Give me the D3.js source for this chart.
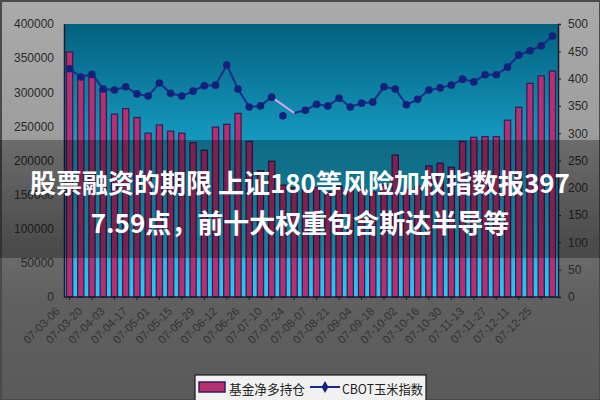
<!DOCTYPE html>
<html><head><meta charset="utf-8">
<script src="https://cdn.jsdelivr.net/npm/d3@7/dist/d3.min.js"></script>
<style>html,body{margin:0;padding:0;background:#777;}svg{display:block;}</style>
</head><body>
<svg id="c" width="600" height="400"></svg>
<script>
// ---- data ----
const weeks = ["07-03-06","07-03-13","07-03-20","07-03-27","07-04-03","07-04-10","07-04-17","07-04-24",
  "07-05-01","07-05-08","07-05-15","07-05-22","07-05-29","07-06-05","07-06-12","07-06-19",
  "07-06-26","07-07-03","07-07-10","07-07-17","07-07-24","07-07-31","07-08-07","07-08-14",
  "07-08-21","07-08-28","07-09-04","07-09-11","07-09-18","07-09-25","07-10-02","07-10-09",
  "07-10-16","07-10-23","07-10-30","07-11-06","07-11-13","07-11-20","07-11-27","07-12-04",
  "07-12-11","07-12-18","07-12-25","08-01-01"];
const fundNetLong = [359000,323000,322000,305000,268000,276000,263000,240000,252000,243000,240000,226000,
  215000,249000,253000,269000,228000,185000,199000,164000,160000,157000,160000,154000,162000,157000,
  160000,154000,164000,208000,157000,162000,192000,196000,190000,228000,234000,235000,235000,259000,
  278000,313000,324000,331000];
const cornIndex = [418,403,408,381,379,385,372,368,392,373,368,377,387,388,425,381,348,350,366,332,337,
  342,353,350,364,348,355,357,385,381,352,362,379,383,388,399,394,407,407,421,443,451,460,478];
const leftTicks = [0,50000,100000,150000,200000,250000,300000,350000,400000];
const rightTicks = [0,50,100,150,200,250,300,350,400,450,500];
const seriesNames = ["基金净多持仓","CBOT玉米指数"];
const titleLines = ["股票融资的期限 上证180等风险加权指数报397","7.59点，前十大权重包含斯达半导等"];

// ---- layout ----
const svg = d3.select("#c");
const W = 600, H = 400;
const X0 = 64, X1 = 558, Y0 = 24, Y1 = 297;
const defs = svg.append("defs");

const bgGrad = defs.append("linearGradient").attr("id","bg").attr("x1",0).attr("y1",0).attr("x2",0).attr("y2",1);
[[0,"#aaaaaa"],[0.34,"#9d9d9d"],[0.6,"#6e6e6e"],[0.75,"#606060"],[1,"#5a5a5a"]].forEach(s=>bgGrad.append("stop").attr("offset",s[0]).attr("stop-color",s[1]));
const plotGrad = defs.append("linearGradient").attr("id","pg").attr("x1",0).attr("y1",0).attr("x2",0).attr("y2",1);
[[0,"#03607f"],[0.4,"#1496bb"],[1,"#25c9f2"]].forEach(s=>plotGrad.append("stop").attr("offset",s[0]).attr("stop-color",s[1]));

svg.append("rect").attr("width",W).attr("height",H).attr("fill","url(#bg)");
svg.append("rect").attr("x",1).attr("y",1).attr("width",W-1).attr("height",H-1)
  .attr("fill","none").attr("stroke","#4a4a4a").attr("stroke-width",2);

const x = d3.scaleBand().domain(d3.range(weeks.length)).range([X0,X1]).paddingInner(0.45).paddingOuter(0.22);
const yL = d3.scaleLinear().domain([0,400000]).range([Y1,Y0]);
const yR = d3.scaleLinear().domain([0,500]).range([Y1,Y0]);
const cx = i => x(i) + x.bandwidth()/2;

svg.append("rect").attr("x",X0).attr("y",Y0).attr("width",X1-X0).attr("height",Y1-Y0).attr("fill","url(#pg)");

// bars
svg.append("g").selectAll("rect").data(fundNetLong).join("rect")
  .attr("x",(d,i)=>x(i)).attr("width",x.bandwidth())
  .attr("y",d=>yL(d)).attr("height",d=>Y1-yL(d))
  .attr("fill","#b82f6f").attr("stroke","#33205a").attr("stroke-width",1.3);

// line
const pts = cornIndex.map((v,i)=>({i,v}));
const line = d3.line().x(d=>cx(d.i)).y(d=>yR(d.v));
const mainSegs = [pts.slice(0,19), pts.slice(20)];
mainSegs.forEach(seg=>svg.append("path").attr("d",line(seg)).attr("fill","none")
  .attr("stroke","#1b2a8c").attr("stroke-width",2));
svg.append("path").attr("d",line([pts[18],pts[20]])).attr("fill","none")
  .attr("stroke","#d7a6e6").attr("stroke-width",2);
svg.append("g").selectAll("circle").data(pts.filter(d=>d.i!==20)).join("circle")
  .attr("cx",d=>cx(d.i)).attr("cy",d=>yR(d.v)).attr("r",3.8).attr("fill","#15207a");

// axes
const axisStyle = g => {
  g.selectAll("path.domain").attr("stroke","#1a1a30").attr("stroke-width",1.5);
  g.selectAll(".tick line").attr("stroke","#1a1a30");
  g.selectAll("text").attr("font-family","'Liberation Sans', Arial, sans-serif").attr("fill","#2a2a2a");
};
svg.append("g").attr("transform",`translate(${X0},0)`)
  .call(d3.axisLeft(yL).tickValues(leftTicks).tickSize(0).tickPadding(10).tickFormat(d3.format("d")))
  .call(axisStyle).call(g=>g.selectAll("text").attr("font-size",12));
svg.append("g").attr("transform",`translate(${X1},0)`)
  .call(d3.axisRight(yR).tickValues(rightTicks).tickSize(3).tickPadding(7).tickFormat(d3.format("d")))
  .call(axisStyle).call(g=>g.selectAll("text").attr("font-size",12));
const xa = svg.append("g").attr("transform",`translate(0,${Y1})`)
  .call(d3.axisBottom(x).tickValues(d3.range(0,weeks.length,2)).tickSize(3).tickFormat(i=>weeks[i]))
  .call(axisStyle);
xa.select("path.domain").attr("d",`M${X0},0H${X1}`);
xa.selectAll(".tick text").attr("font-size",11.5).attr("fill","#333333")
  .attr("text-anchor","end").attr("dy",0).attr("y",0)
  .attr("transform","translate(-9,15) rotate(-45)");

// banner
svg.append("rect").attr("x",0).attr("y",140).attr("width",W).attr("height",118).attr("fill","rgba(0,0,0,0.3)");
svg.append("g").selectAll("text").data(titleLines).join("text")
  .attr("x",300).attr("y",(d,i)=>181+i*40).attr("text-anchor","middle").attr("dominant-baseline","central")
  .attr("font-family","'Noto Sans CJK SC', sans-serif").attr("font-weight","bold").attr("font-size",26)
  .attr("fill","#ffffff").text(d=>d);

// legend
const lg = svg.append("g");
lg.append("rect").attr("x",195).attr("y",375).attr("width",231).attr("height",26)
  .attr("fill","#f1f1f1").attr("stroke","#1a1a1a").attr("stroke-width",1.2);
lg.append("rect").attr("x",199).attr("y",382).attr("width",26).attr("height",10)
  .attr("fill","#b82f6f").attr("stroke","#33205a").attr("stroke-width",1.5);
lg.append("line").attr("x1",310).attr("x2",340).attr("y1",387).attr("y2",387).attr("stroke","#1b2a8c").attr("stroke-width",2);
lg.append("path").attr("d",d3.symbol(d3.symbolDiamond,40)()).attr("transform","translate(325,387)").attr("fill","#15207a");
const legendX = [229, 342], legendLen = [76, 81];
lg.selectAll("text").data(seriesNames).join("text")
  .attr("x",(d,i)=>legendX[i]).attr("y",388).attr("dominant-baseline","central")
  .attr("font-family","'Noto Sans CJK SC', sans-serif").attr("font-size",13).attr("fill","#222")
  .attr("textLength",(d,i)=>legendLen[i]).attr("lengthAdjust","spacingAndGlyphs")
  .text(d=>d);
</script>
</body></html>
